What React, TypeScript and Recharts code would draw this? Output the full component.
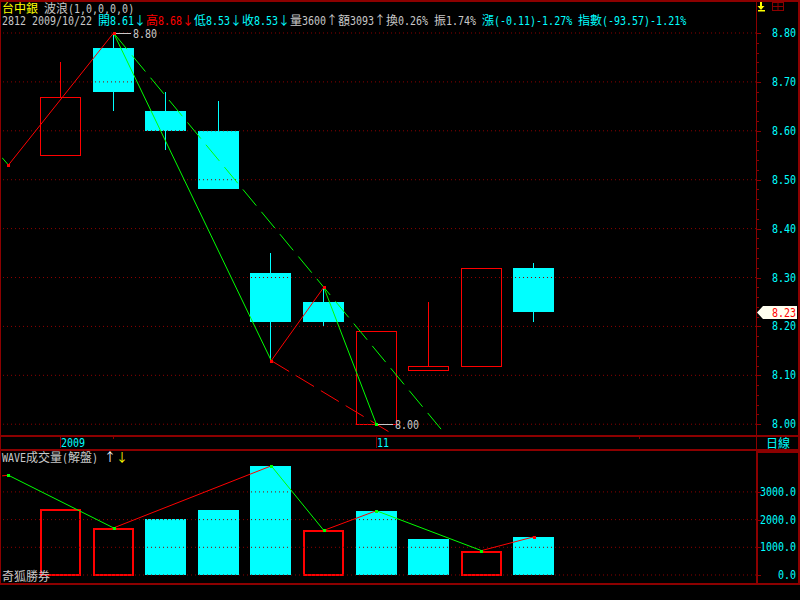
import React from "react";
import { ComposedChart, Bar, Line, XAxis, YAxis, ReferenceLine } from "recharts";

const BORDER = "#8c0000";
const GRID = "#8c0000";
const CYAN = "#00ffff";
const RED = "#ff0000";
const GREEN = "#00ff00";
const GRAY = "#c8c8c8";
const YELLOW = "#ffff00";
const MONO = "'DejaVu Sans Mono', monospace";
const CJK = "'Noto Sans CJK TC', 'Noto Sans CJK SC', sans-serif";
const BODY_W = 41;

// one slot per trading day, slot 0 is the day cut off at the left edge
const slots = [1, 2, 3, 4, 5, 6, 7, 8, 9, 10];
const opens = [8.55, 8.77, 8.64, 8.6, 8.31, 8.25, 8.0, 8.11, 8.12, 8.32];
const highs = [8.74, 8.8, 8.68, 8.66, 8.35, 8.28, 8.19, 8.25, 8.32, 8.33];
const lows = [8.55, 8.64, 8.56, 8.48, 8.13, 8.2, 8.0, 8.11, 8.12, 8.21];
const closes = [8.67, 8.68, 8.6, 8.48, 8.21, 8.21, 8.19, 8.12, 8.32, 8.23];
const volumes = [2380, 1700, 2030, 2360, 3940, 1610, 2320, 1300, 870, 1370];
const volHollow = [true, true, false, false, false, true, false, false, true, false];
const lastClose = 8.23;

// wave (zigzag) pivots
const waveX = [-0.12, 0, 2, 5, 6, 7];
const waveP = [8.545, 8.53, 8.8, 8.13, 8.28, 8.0];
const hiTrendX = [2, 6, 9];
const hiTrendP = [8.8, 8.28, 7.89];
const loTrendX = [5, 7, 8];
const loTrendP = [8.13, 8.0, 7.935];
const volWaveX = [-0.12, 0, 2, 5, 6, 7, 9, 10];
const volWaveV = [3580, 3600, 1700, 3940, 1610, 2320, 880, 1380];

const markX = [2, 7];
const markP = [8.8, 8.0];
const markLabels = ["8.80", "8.00"];

const priceLabels = ["8.00", "8.10", "8.20", "8.30", "8.40", "8.50", "8.60", "8.70", "8.80"];
const volTickValues = [0, 1000, 2000, 3000];
const volLabels = ["0.0", "1000.0", "2000.0", "3000.0"];
const dateTicks = [1, 7];
const dateLabels = ["2009", "11"];
const minorDateTicks = [2, 12];

// layout
const X_MIN = -0.1225;
const X_MAX = 14.223;
const P_MIN = 7.9759;
const P_MAX = 8.8184;
const V_MIN = -289;
const V_MAX = 4477;

const candles = slots.map((x, i) => ({
  x,
  open: opens[i],
  high: highs[i],
  low: lows[i],
  close: closes[i],
}));
const volData = slots.map((x, i) => ({ x, vol: volumes[i], hollow: volHollow[i] }));

const minorPrice = Array.from({ length: 41 }, (_, i) => +(8 + i * 0.02).toFixed(2));
const priceAxisTicks = [...minorPrice, lastClose];

const segments = (xs: number[], vs: number[]) =>
  xs.slice(1).map((x, i) => ({
    data: [
      { x: xs[i], p: vs[i] },
      { x, p: vs[i + 1] },
    ],
    color: vs[i + 1] > vs[i] ? RED : GREEN,
  }));

const waveSegs = segments(waveX, waveP);
const volSegs = segments(volWaveX, volWaveV);
const pivots = waveX.map((x, i) => ({ x, p: waveP[i] })).filter((d) => d.x >= 0);
const volPivots = volWaveX.map((x, i) => ({ x, p: volWaveV[i] })).filter((d) => d.x >= 0);
const marks = markX.map((x, i) => ({ x, p: markP[i], label: markLabels[i] }));

const cellW = (s: string) =>
  Array.from(s).reduce((a, c) => a + (c.charCodeAt(0) > 126 ? 12 : 6), 0);

// half-width bitmap look: 10px mono stretched vertically
const Mono = ({ x, y, s, fill }: { x: number; y: number; s: string; fill: string }) => (
  <text transform={`translate(${x},${y}) scale(1,1.2)`} fill={fill} fontSize={10} fontFamily={MONO}>
    {s}
  </text>
);

type Part = [string, string];
const tokenRe = /[\x21-\x7e]+|[^\x00-\x7e]+| +/g;

function TextRow({ x, y, parts }: { x: number; y: number; parts: Part[] }) {
  let cur = x;
  const out: React.ReactNode[] = [];
  parts.forEach(([s, color], pi) => {
    (s.match(tokenRe) || []).forEach((tok, ti) => {
      const w = cellW(tok);
      if (tok.trim()) {
        if (/[^\x00-\x7e]/.test(tok)) {
          out.push(
            <text key={`${pi}-${ti}`} x={cur} y={y} fill={color} fontSize={12} fontFamily={CJK}>
              {tok}
            </text>
          );
        } else {
          out.push(<Mono key={`${pi}-${ti}`} x={cur} y={y} s={tok} fill={color} />);
        }
      }
      cur += w;
    });
  });
  return <g>{out}</g>;
}

const Candle = (props: any) => {
  const { x, y, width, height, payload } = props;
  if (x == null || !payload) return null;
  const top = Math.min(y, y + height);
  const h = Math.abs(height);
  const { open, close, high, low } = payload;
  const py = (v: number) => Math.round(top + ((high - v) / (high - low)) * h);
  const c = x + width / 2;
  const left = Math.round(c - BODY_W / 2);
  const cx = Math.round(c - 0.5) + 0.5;
  const bodyTop = py(Math.max(open, close));
  const bodyBot = py(Math.min(open, close));
  const yh = py(high);
  const yl = py(low);
  if (close > open) {
    return (
      <g>
        {yh < bodyTop && <line x1={cx} x2={cx} y1={yh} y2={bodyTop} stroke={RED} />}
        {yl > bodyBot && <line x1={cx} x2={cx} y1={bodyBot} y2={yl} stroke={RED} />}
        <rect
          x={left + 0.5}
          y={bodyTop + 0.5}
          width={BODY_W - 1}
          height={Math.max(bodyBot - bodyTop, 1)}
          fill="none"
          stroke={RED}
        />
      </g>
    );
  }
  return (
    <g>
      <line x1={cx} x2={cx} y1={yh} y2={yl} stroke={CYAN} />
      <rect x={left} y={bodyTop} width={BODY_W} height={Math.max(bodyBot - bodyTop, 1)} fill={CYAN} />
    </g>
  );
};

const VolBar = (props: any) => {
  const { x, y, width, height, payload } = props;
  if (x == null || !payload) return null;
  const top = Math.round(Math.min(y, y + height));
  const bot = Math.round(Math.max(y, y + height));
  const left = Math.round(x + width / 2 - BODY_W / 2);
  if (payload.hollow) {
    return (
      <rect
        x={left + 1}
        y={top + 1}
        width={BODY_W - 2}
        height={bot - top - 1}
        fill="none"
        stroke={RED}
        strokeWidth={2}
      />
    );
  }
  return <rect x={left} y={top} width={BODY_W} height={bot - top} fill={CYAN} />;
};

const pivotDot = (color: string, lastColor: string, count: number) => (p: any) => (
  <rect
    key={`pv-${p.index}`}
    x={Math.round(p.cx) - 1}
    y={Math.round(p.cy) - 1}
    width={3}
    height={3}
    fill={p.index === count - 1 ? lastColor : color}
  />
);

const markDot = (p: any) => {
  const cx = Math.round(p.cx);
  const cy = Math.round(p.cy);
  return (
    <g key={`mk-${p.index}`}>
      <line x1={cx + 2} y1={cy + 0.5} x2={cx + 17} y2={cy + 0.5} stroke={GRAY} />
      <Mono x={cx + 19} y={cy + 5} s={p.payload.label} fill={GRAY} />
    </g>
  );
};

const DateTick = (p: any) => {
  const v = p.payload.value;
  const x = Math.floor(p.x) + 0.5;
  const y = p.y;
  const i = dateTicks.indexOf(v);
  return (
    <g>
      <line x1={x} x2={x} y1={y} y2={y + (i >= 0 ? 12 : 3)} stroke={BORDER} />
      {i >= 0 && <Mono x={Math.floor(p.x) + 1} y={y + 10.5} s={dateLabels[i]} fill={CYAN} />}
    </g>
  );
};

const PriceTick = (p: any) => {
  const v = p.payload.value;
  const x = p.x;
  const y = Math.round(p.y) + 0.5;
  if (Math.abs(v - lastClose) < 1e-6) {
    const s = lastClose.toFixed(2);
    return (
      <g>
        <polygon
          points={`${x + 1},${y} ${x + 7},${y - 6.5} ${x + 41},${y - 6.5} ${x + 41},${y + 6.5} ${x + 7},${y + 6.5}`}
          fill="#fffff0"
        />
        <Mono x={x + 40 - cellW(s)} y={y + 4} s={s} fill={RED} />
      </g>
    );
  }
  const label = priceLabels.find((l) => Math.abs(Number(l) - v) < 1e-6);
  return (
    <g>
      <line x1={x} x2={x + (label ? 5 : 3)} y1={y} y2={y} stroke={BORDER} />
      {label && <Mono x={796 - cellW(label)} y={y + 3.5} s={label} fill={CYAN} />}
    </g>
  );
};

const VolTick = (p: any) => {
  const v = p.payload.value;
  const y = Math.round(p.y) + 0.5;
  const label = volLabels[volTickValues.indexOf(v)] || "";
  return (
    <g>
      <line x1={p.x} x2={p.x + 5} y1={y} y2={y} stroke={BORDER} />
      <Mono x={796 - cellW(label)} y={y + 3.5} s={label} fill={CYAN} />
    </g>
  );
};

export default function App() {
  return (
    <div
      style={{
        position: "absolute",
        left: 0,
        top: 0,
        width: 800,
        height: 600,
        background: "#000",
        overflow: "hidden",
      }}
    >
      <div style={{ position: "absolute", left: 0, top: 0 }}>
        <ComposedChart width={800} height={450} data={candles} margin={{ top: 24, right: 2, bottom: 0, left: 2 }}>
          <XAxis
            dataKey="x"
            type="number"
            domain={[X_MIN, X_MAX]}
            allowDataOverflow
            ticks={[...dateTicks, ...minorDateTicks]}
            interval={0}
            height={14}
            axisLine={false}
            tickLine={false}
            tickSize={0}
            tickMargin={0}
            tick={(p: any) => <DateTick {...p} />}
          />
          <YAxis
            orientation="right"
            type="number"
            domain={[P_MIN, P_MAX]}
            allowDataOverflow
            width={42}
            ticks={priceAxisTicks}
            interval={0}
            axisLine={false}
            tickLine={false}
            tickSize={0}
            tickMargin={0}
            tick={(p: any) => <PriceTick {...p} />}
          />
          {priceLabels.map((l) => (
            <ReferenceLine key={l} y={Number(l)} stroke={GRID} strokeDasharray="1 3" />
          ))}
          <Bar
            dataKey={(d: any) => [d.low, d.high]}
            barSize={41}
            shape={(p: any) => <Candle {...p} />}
            isAnimationActive={false}
          />
          <Line
            data={hiTrendX.map((x, i) => ({ x, p: hiTrendP[i] }))}
            dataKey="p"
            stroke={GREEN}
            strokeDasharray="21 8"
            dot={false}
            isAnimationActive={false}
          />
          <Line
            data={loTrendX.map((x, i) => ({ x, p: loTrendP[i] }))}
            dataKey="p"
            stroke={RED}
            strokeDasharray="21 8"
            dot={false}
            isAnimationActive={false}
          />
          {waveSegs.map((s, i) => (
            <Line
              key={`w${i}`}
              data={s.data}
              dataKey="p"
              stroke={s.color}
              dot={false}
              isAnimationActive={false}
            />
          ))}
          <Line
            data={pivots}
            dataKey="p"
            stroke="none"
            dot={pivotDot(RED, GREEN, pivots.length)}
            isAnimationActive={false}
          />
          <Line data={marks} dataKey="p" stroke="none" dot={markDot} isAnimationActive={false} />
        </ComposedChart>
      </div>

      <div style={{ position: "absolute", left: 0, top: 450 }}>
        <ComposedChart width={800} height={134} data={volData} margin={{ top: 1, right: 2, bottom: 1, left: 2 }}>
          <XAxis
            dataKey="x"
            type="number"
            domain={[X_MIN, X_MAX]}
            allowDataOverflow
            ticks={[...dateTicks, ...minorDateTicks]}
            hide
          />
          <YAxis
            orientation="right"
            type="number"
            domain={[V_MIN, V_MAX]}
            allowDataOverflow
            width={42}
            ticks={volTickValues}
            interval={0}
            axisLine={false}
            tickLine={false}
            tickSize={0}
            tickMargin={0}
            tick={(p: any) => <VolTick {...p} />}
          />
          {volTickValues.map((v) => (
            <ReferenceLine key={v} y={v} stroke={GRID} strokeDasharray="1 3" />
          ))}
          <Bar dataKey="vol" barSize={41} shape={(p: any) => <VolBar {...p} />} isAnimationActive={false} />
          {volSegs.map((s, i) => (
            <Line
              key={`v${i}`}
              data={s.data}
              dataKey="p"
              stroke={s.color}
              dot={false}
              isAnimationActive={false}
            />
          ))}
          <Line
            data={volPivots}
            dataKey="p"
            stroke="none"
            dot={pivotDot(GREEN, RED, volPivots.length)}
            isAnimationActive={false}
          />
        </ComposedChart>
      </div>

      <svg width={800} height={600} style={{ position: "absolute", left: 0, top: 0, pointerEvents: "none" }}>
        <g fill={BORDER}>
          <rect x={0} y={0} width={800} height={2} />
          <rect x={0} y={0} width={1} height={585} />
          <rect x={798} y={0} width={2} height={585} />
          <rect x={0} y={435} width={800} height={2} />
          <rect x={0} y={449} width={800} height={2} />
          <rect x={0} y={583} width={800} height={2} />
          <rect x={756} y={0} width={1} height={450} />
          <rect x={756} y={450} width={2} height={135} />
          <rect x={756} y={450} width={44} height={3} />
        </g>
        <g>
          <rect x={760} y={2} width={2} height={5} fill={YELLOW} />
          <polygon points="757.5,6 764.5,6 761,10" fill={YELLOW} />
          <rect x={758} y={10} width={7} height={1.5} fill={YELLOW} />
          <rect x={772.5} y={2.5} width={11} height={8} fill="none" stroke={BORDER} />
          <line x1={778} x2={778} y1={2.5} y2={10.5} stroke={BORDER} />
          <line x1={772.5} x2={783.5} y1={6.5} y2={6.5} stroke={BORDER} />
        </g>
        <TextRow
          x={2}
          y={13}
          parts={[
            ["台中銀", YELLOW],
            [" 波浪(1,0,0,0,0)", GRAY],
          ]}
        />
        <TextRow
          x={2}
          y={25}
          parts={[
            ["2812 2009/10/22 ", GRAY],
            ["開8.61↓", CYAN],
            ["高8.68↓", RED],
            ["低8.53↓收8.53↓", CYAN],
            ["量3600↑額3093↑換0.26% 振1.74% ", GRAY],
            ["漲(-0.11)-1.27% 指數(-93.57)-1.21%", CYAN],
          ]}
        />
        <TextRow x={766} y={448} parts={[["日線", CYAN]]} />
        <TextRow
          x={2}
          y={462}
          parts={[
            ["WAVE成交量(解盤) ", GRAY],
            ["↑", "#ffffff"],
            ["↓", YELLOW],
          ]}
        />
        <TextRow x={2} y={581} parts={[["奇狐勝券", GRAY]]} />
      </svg>
    </div>
  );
}
